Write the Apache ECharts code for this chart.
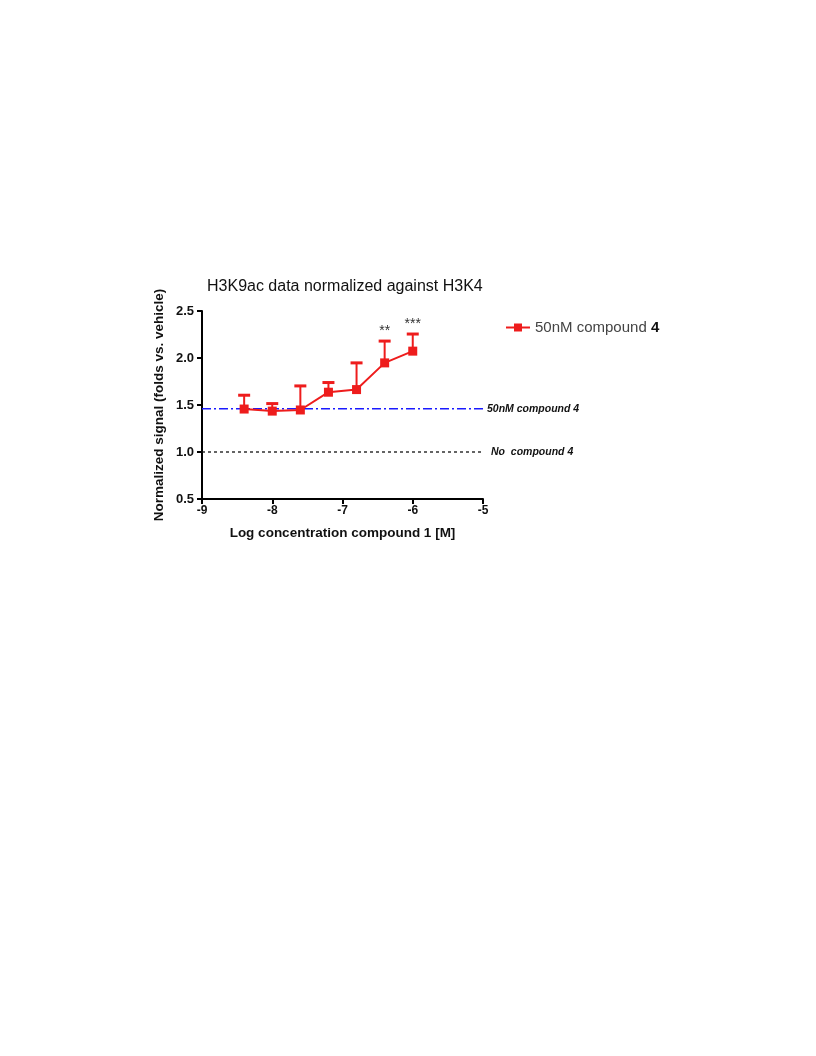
<!DOCTYPE html>
<html><head><meta charset="utf-8">
<script src="https://cdn.jsdelivr.net/npm/echarts@6/dist/echarts.min.js"></script>
<style>html,body{margin:0;padding:0;background:#fff}#c{width:816px;height:1056px}</style>
</head><body><div id="c"></div>
<script>
const logConc = [-8.4, -8.0, -7.6, -7.2, -6.8, -6.4, -6.0];
const signal = [1.457, 1.435, 1.447, 1.636, 1.664, 1.948, 2.073];
const errTop = [1.604, 1.515, 1.703, 1.739, 1.948, 2.18, 2.255];
const stars = ['', '', '', '', '', '**', '***'];
const refWith = 1.46;
const refNone = 1.0;
const xTicks = [-9, -8, -7, -6, -5];
const yTicks = [0.5, 1.0, 1.5, 2.0, 2.5];

const chart = echarts.init(document.getElementById('c'));
const font = 'Liberation Sans, Arial, sans-serif';
const errData = logConc.map((x, i) => [x, signal[i], errTop[i], stars[i]]);

chart.setOption({
  animation: false,
  title: {
    text: 'H3K9ac data normalized against H3K4',
    left: 202, top: 274,
    textStyle: {fontFamily: font, fontSize: 16, fontWeight: 'normal', color: '#111'}
  },
  legend: {
    left: 500, top: 315,
    itemWidth: 24, itemHeight: 10,
    data: ['main'],
    formatter: () => '50nM compound {b|4}',
    textStyle: {fontFamily: font, fontSize: 15, color: '#444',
      rich: {b: {fontFamily: font, fontSize: 15, fontWeight: 'bold', color: '#111'}}}
  },
  grid: {left: 202, right: 333, top: 311, bottom: 557, containLabel: false},
  xAxis: {
    type: 'value', min: -9, max: -5, interval: 1,
    name: 'Log concentration compound 1 [M]', nameLocation: 'middle', nameGap: 27,
    nameTextStyle: {fontFamily: font, fontSize: 13.5, fontWeight: 'bold', color: '#111'},
    axisLine: {lineStyle: {color: '#000', width: 2}},
    axisTick: {length: 5, lineStyle: {color: '#000', width: 2}},
    axisLabel: {fontFamily: font, fontSize: 12, fontWeight: 'bold', color: '#111', margin: 6,
      formatter: v => xTicks.includes(v) ? String(v) : ''},
    splitLine: {show: false}
  },
  yAxis: {
    type: 'value', min: 0.5, max: 2.5, interval: 0.5,
    name: 'Normalized signal (folds vs. vehicle)', nameLocation: 'middle', nameGap: 36,
    nameTextStyle: {fontFamily: font, fontSize: 13.5, fontWeight: 'bold', color: '#111'},
    axisLine: {show: true, lineStyle: {color: '#000', width: 2}},
    axisTick: {show: true, length: 5, lineStyle: {color: '#000', width: 2}},
    axisLabel: {fontFamily: font, fontSize: 13, fontWeight: 'bold', color: '#111', margin: 8,
      formatter: v => yTicks.includes(v) ? v.toFixed(1) : ''},
    splitLine: {show: false}
  },
  series: [
    {
      type: 'line', name: 'ref1',
      data: [[-9, refWith], [-5, refWith]],
      symbol: 'none', silent: true,
      lineStyle: {color: '#1a1aff', width: 1.5, type: [9, 3, 2, 3]},
      endLabel: {show: true, formatter: '50nM compound 4', distance: 4,
        fontFamily: font, fontSize: 10.5, fontWeight: 'bold', fontStyle: 'italic', color: '#111'}
    },
    {
      type: 'line', name: 'ref2',
      data: [[-9, refNone], [-5, refNone]],
      symbol: 'none', silent: true,
      lineStyle: {color: '#111', width: 1.3, type: [3, 3]},
      endLabel: {show: true, formatter: 'No  compound 4', distance: 8,
        fontFamily: font, fontSize: 10.5, fontWeight: 'bold', fontStyle: 'italic', color: '#111'}
    },
    {
      type: 'custom', name: 'err',
      data: errData,
      renderItem: (params, api) => {
        const x = api.value(0);
        const p0 = api.coord([x, api.value(1)]);
        const p1 = api.coord([x, api.value(2)]);
        const st = errData[params.dataIndex][3];
        const children = [
          {type: 'line', shape: {x1: p0[0], y1: p0[1], x2: p1[0], y2: p1[1]},
            style: {stroke: '#ee1c1c', lineWidth: 2}},
          {type: 'line', shape: {x1: p1[0] - 6, y1: p1[1], x2: p1[0] + 6, y2: p1[1]},
            style: {stroke: '#ee1c1c', lineWidth: 3}}
        ];
        if (st) {
          children.push({type: 'text', x: p1[0], y: p1[1] - 3,
            style: {text: st, fontFamily: font, fontSize: 14, fill: '#333', align: 'center', verticalAlign: 'bottom'}});
        }
        return {type: 'group', children};
      },
      z: 3
    },
    {
      type: 'line', name: 'main',
      data: logConc.map((x, i) => [x, signal[i]]),
      symbol: 'rect', symbolSize: 9,
      itemStyle: {color: '#ee1c1c'},
      lineStyle: {color: '#ee1c1c', width: 2},
      z: 4
    }
  ]
});
</script></body></html>
